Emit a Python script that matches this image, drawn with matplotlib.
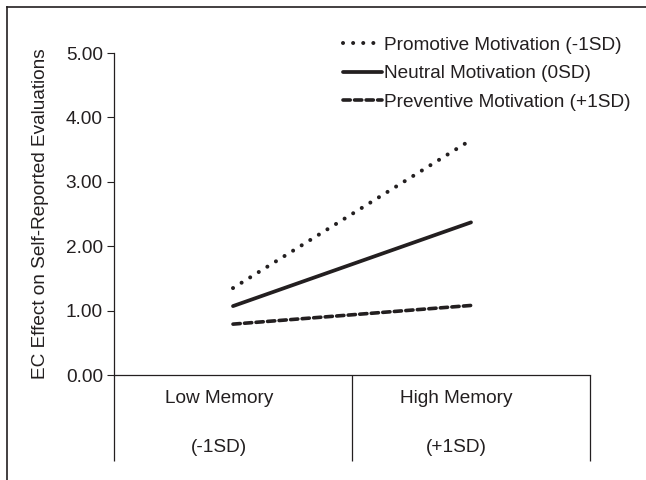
import matplotlib.pyplot as plt
from matplotlib.lines import Line2D

plt.rcParams['font.family'] = ['Liberation Sans', 'DejaVu Sans']

# simple slopes at low / high memory
memory_levels = ['Low Memory', 'High Memory']
memory_sd = ['(-1SD)', '(+1SD)']
promotive = [1.35, 3.65]
neutral = [1.07, 2.37]
preventive = [0.79, 1.08]
series_labels = ['Promotive Motivation (-1SD)', 'Neutral Motivation (0SD)',
                 'Preventive Motivation (+1SD)']
yticks = [0, 1, 2, 3, 4, 5]

ink = '#231f20'
fs = 13.7
W, H = 646, 480
fig = plt.figure(figsize=(W / 100, H / 100), dpi=100)
ax = fig.add_axes([114 / W, (H - 375) / H, (590 - 114) / W, (375 - 53) / H])

xpos = [0.5, 1.5]
ax.plot(xpos, promotive, color=ink, lw=2.9, linestyle=(0, (0.01, 2.5)),
        dash_capstyle='round', label=series_labels[0])
ax.plot(xpos, neutral, color=ink, lw=2.7, solid_capstyle='round',
        label=series_labels[1])
ax.plot(xpos, preventive, color=ink, lw=2.6, linestyle=(0, (2.0, 1.2)),
        dash_capstyle='round', label=series_labels[2])

ax.set_xlim(0, 2)
ax.set_ylim(0, 5)
ax.set_yticks(yticks)
ax.set_yticklabels([f'{v:.2f}' for v in yticks], fontsize=fs, color=ink)
ax.tick_params(axis='y', length=5, width=0.8, color=ink, pad=3)
ax.set_xticks([])
for side in ['top', 'right']:
    ax.spines[side].set_visible(False)
for side in ['left', 'bottom']:
    ax.spines[side].set_color(ink)
    ax.spines[side].set_linewidth(0.9)

ax.set_ylabel('EC Effect on Self-Reported Evaluations', fontsize=fs,
              color=ink, labelpad=12)

# category table under the axis
ax.vlines([0, 1, 2], -1.33, 0, color=ink, lw=0.9, clip_on=False)
for x, name, sd in zip(xpos, memory_levels, memory_sd):
    ax.text(x - 0.06, -0.37, name, ha='center', va='center', fontsize=fs,
            color=ink, clip_on=False)
    ax.text(x - 0.06, -1.13, sd, ha='center', va='center', fontsize=fs,
            color=ink, clip_on=False)

leg = ax.legend(loc='upper left', bbox_to_anchor=(221 / 476, 1 + 24 / 322),
                frameon=False, fontsize=fs, handlelength=2.05,
                handletextpad=0.15, labelspacing=0.58, borderaxespad=0)
for t in leg.get_texts():
    t.set_color(ink)

# frame edges along top and left
fig.add_artist(Line2D([7 / W, 7 / W], [0, 1 - 7 / H], color=ink, lw=1.2,
                      transform=fig.transFigure))
fig.add_artist(Line2D([7 / W, 1], [1 - 7 / H, 1 - 7 / H], color=ink, lw=1.2,
                      transform=fig.transFigure))

fig.savefig('out.png', dpi=100)
